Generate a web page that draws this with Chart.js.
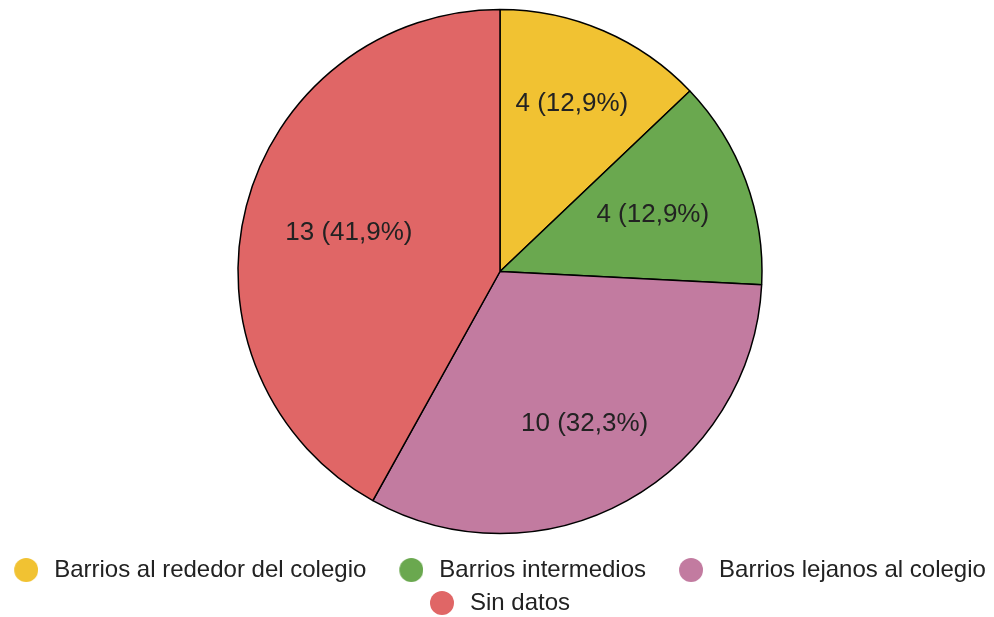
<!DOCTYPE html>
<html>
<head>
<meta charset="utf-8">
<script src="https://cdn.jsdelivr.net/npm/chart.js@4.4.1/dist/chart.umd.min.js"></script>
<style>
  html, body { margin: 0; padding: 0; background: #fff; }
  #wrap { width: 994px; height: 617px; }
</style>
</head>
<body>
<div id="wrap"><canvas id="pieChart"></canvas></div>
<script>
// Alumnos por zona de residencia
const categories = ['Barrios al rededor del colegio', 'Barrios intermedios', 'Barrios lejanos al colegio', 'Sin datos'];
const counts = [4, 4, 10, 13];
const sliceColors = ['#F1C232', '#6AA84F', '#C27BA0', '#E06666'];

const FONT = '"Liberation Sans", Arial, sans-serif';
const LABEL_SIZE = 26;
const total = counts.reduce((a, b) => a + b, 0);

// "4 (12,9%)" style text, comma as decimal separator
function sliceText(v) {
    const pct = (v / total * 100).toFixed(1).replace('.', ',');
    return v + ' (' + pct + '%)';
}

// Legend dot drawn on a small canvas, circle pushed to the right so
// there is room between the previous label and the dot
function makeDot(color) {
    const c = document.createElement('canvas');
    c.width = 44;
    c.height = 24;
    const g = c.getContext('2d');
    g.fillStyle = color;
    g.beginPath();
    g.arc(32, 12, 12, 0, Math.PI * 2);
    g.fill();
    return c;
}
const legendDots = sliceColors.map(makeDot);

// Writes the count and percentage inside every slice; the text box
// (with some margin) is kept a fixed distance in from the rim
const sliceLabels = {
    id: 'sliceLabels',
    afterDatasetsDraw(chart) {
        const ctx = chart.ctx;
        const meta = chart.getDatasetMeta(0);
        ctx.save();
        ctx.font = LABEL_SIZE + 'px ' + FONT;
        ctx.fillStyle = '#222';
        ctx.textAlign = 'center';
        ctx.textBaseline = 'middle';
        meta.data.forEach((arc, i) => {
            const p = arc.getProps(['x', 'y', 'startAngle', 'endAngle', 'outerRadius'], true);
            const mid = (p.startAngle + p.endAngle) / 2;
            const text = sliceText(counts[i]);
            const w = ctx.measureText(text).width;
            const cos = Math.cos(mid), sin = Math.sin(mid);
            const reach = w / 2 * Math.abs(cos) + 20 * Math.abs(sin);
            const r = p.outerRadius * 0.85 - reach;
            ctx.fillText(text, p.x + cos * r, p.y + sin * r);
        });
        ctx.restore();
    }
};

const ctx = document.getElementById('pieChart').getContext('2d');
const pieChart = new Chart(ctx, {
    type: 'pie',
    data: {
        labels: categories,
        datasets: [{
            data: counts,
            backgroundColor: sliceColors,
            borderColor: '#000',
            borderWidth: 1.5
        }]
    },
    options: {
        responsive: true,
        maintainAspectRatio: false,
        animation: false,
        radius: 262,
        layout: {
            padding: { top: 0, bottom: -8, left: -24, right: -6 }
        },
        plugins: {
            tooltip: { enabled: false },
            // empty title / subtitle boxes only nudge the pie inside the canvas
            title: {
                display: true,
                text: '',
                position: 'left',
                fullSize: false,
                font: { size: 25, lineHeight: 1.2 },
                padding: 0
            },
            subtitle: {
                display: true,
                text: '',
                position: 'bottom',
                fullSize: false,
                weight: 500,
                font: { size: 5, lineHeight: 1.2 },
                padding: 0
            },
            legend: {
                position: 'bottom',
                labels: {
                    usePointStyle: true,
                    pointStyleWidth: 52,
                    padding: 9,
                    color: '#222',
                    font: { family: FONT, size: 24 },
                    generateLabels(chart) {
                        const items = Chart.overrides.doughnut.plugins.legend.labels.generateLabels(chart);
                        items.forEach((item, i) => { item.pointStyle = legendDots[i]; });
                        return items;
                    }
                }
            }
        }
    },
    plugins: [sliceLabels]
});
</script>
</body>
</html>
